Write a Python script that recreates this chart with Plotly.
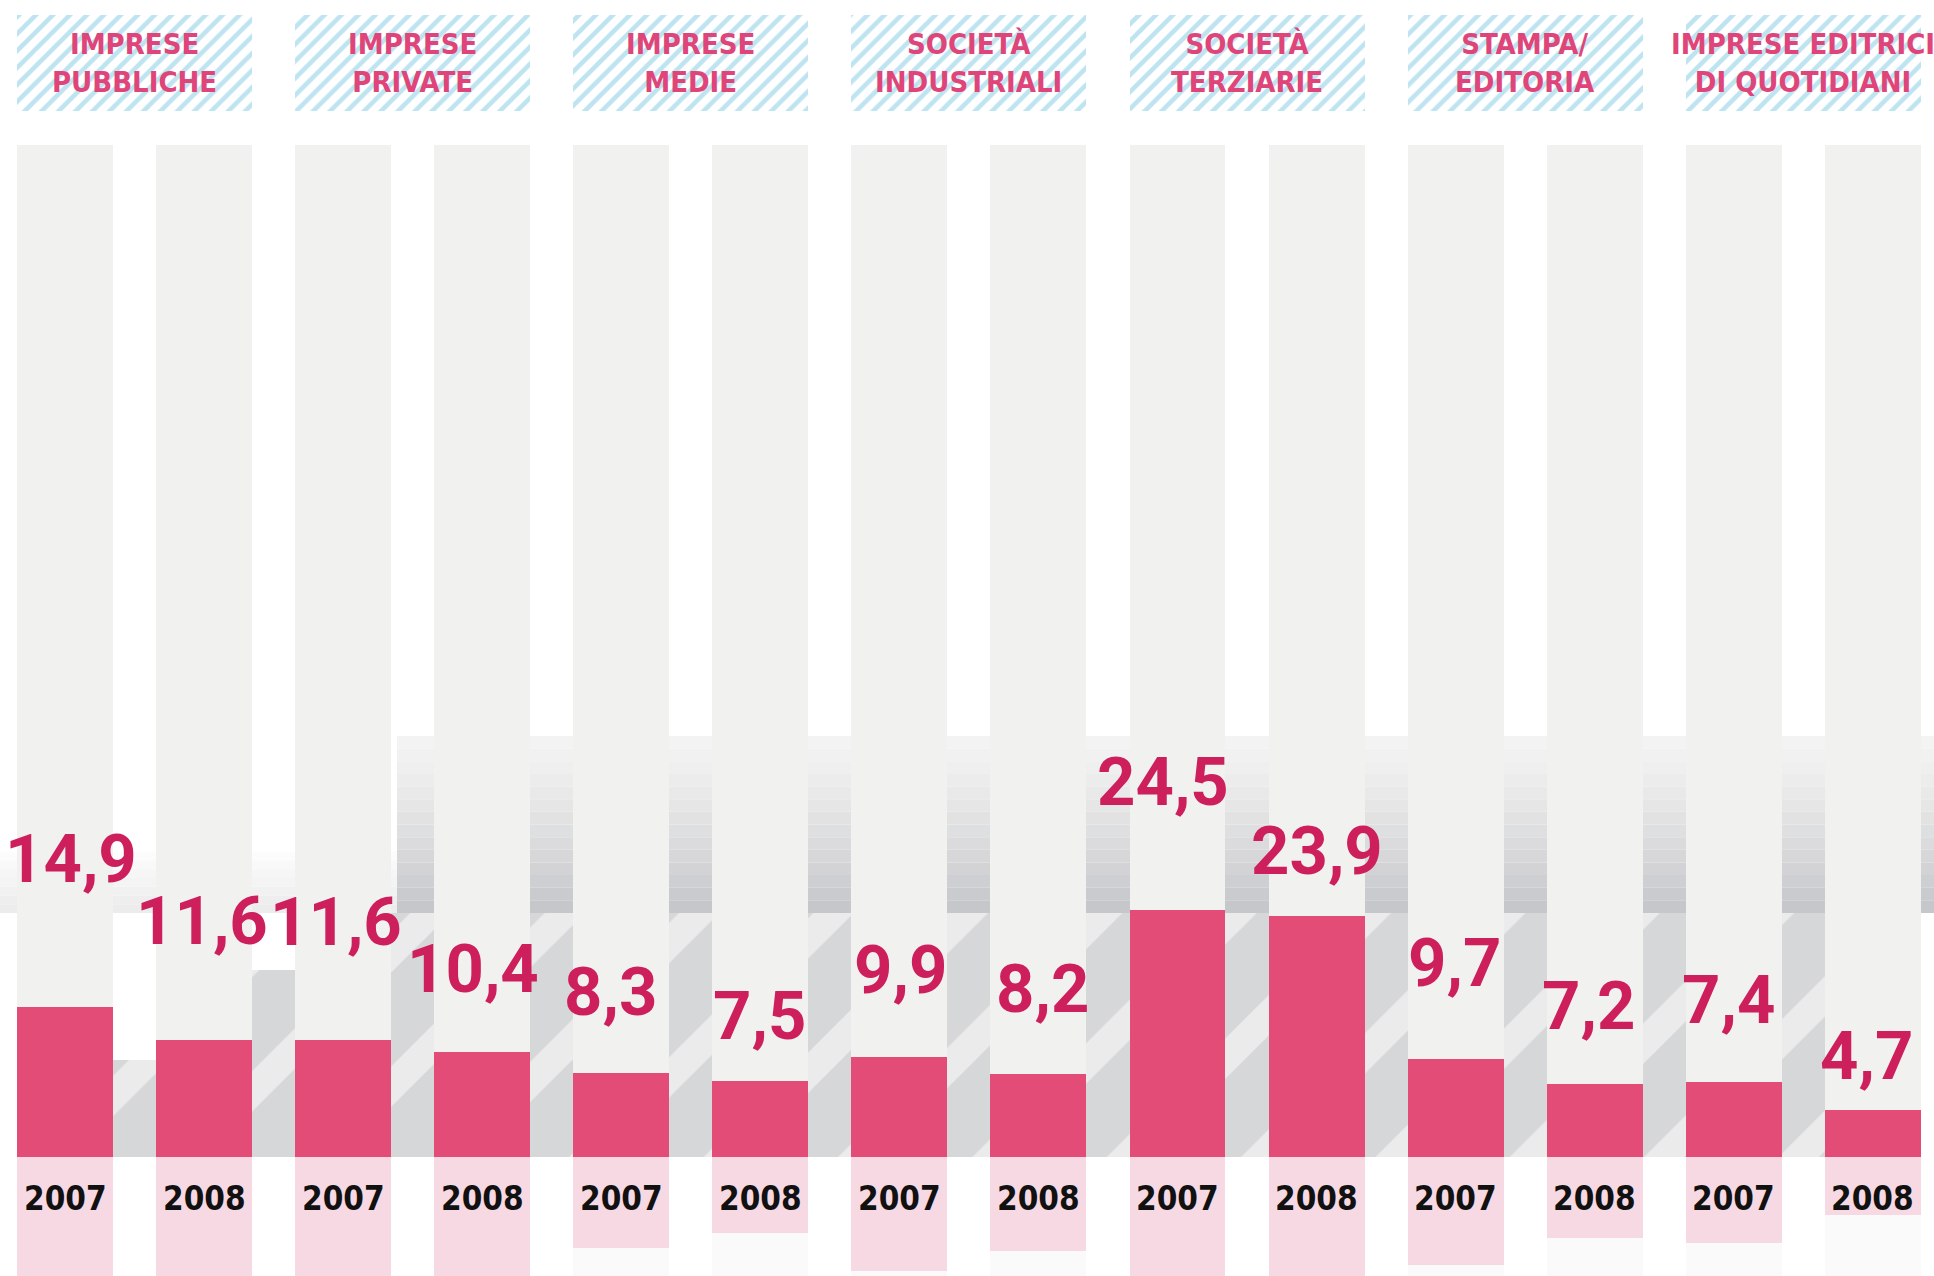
import plotly.graph_objects as go

# ---------------- data ----------------
categories = ["IMPRESE<br>PUBBLICHE", "IMPRESE<br>PRIVATE", "IMPRESE<br>MEDIE",
              "SOCIETÀ<br>INDUSTRIALI", "SOCIETÀ<br>TERZIARIE", "STAMPA/<br>EDITORIA",
              "IMPRESE EDITRICI<br>DI QUOTIDIANI"]
years = ["2007", "2008"]
values = [14.9, 11.6, 11.6, 10.4, 8.3, 7.5, 9.9, 8.2, 24.5, 23.9, 9.7, 7.2, 7.4, 4.7]
value_labels = ["14,9", "11,6", "11,6", "10,4", "8,3", "7,5", "9,9", "8,2",
                "24,5", "23,9", "9,7", "7,2", "7,4", "4,7"]

# ---------------- style ----------------
FONT = "DejaVu Sans Condensed, DejaVu Sans, sans-serif"
NUM_FONT = "Roboto, DejaVu Sans Condensed, sans-serif"
BAR_W = 0.69
Y_MIN, Y_MAX = -11.78, 114.55
COL_TOP = 100.2
HEAD_BASE, HEAD_H = 103.6, 9.5
BAND_BOTTOM = 24.2
# label placement above each bar (pixels), as in the original layout
label_dy = [148, 119, 118, 83, 81, 65, 87, 85, 128, 65, 96, 78, 82, 54]
label_dx = [6, -2, -7, -9, -11, -1, 1, 4, -15, 0, -1, -6, -5, -6]
# depth of the pale pink foot under each column (decorative reflection)
foot_depth = [Y_MIN, Y_MIN, Y_MIN, Y_MIN, -9.0, -7.5, -11.3, -9.3, Y_MIN, Y_MIN,
              -10.7, -8.0, -8.5, -5.7]

n = len(values)
xs = list(range(n))
year_of = [years[i % 2] for i in xs]
pair_x = [2 * k + 0.5 for k in range(len(categories))]
gap_x = [i + 0.5 for i in range(n - 1)]
gap_h = [9.6, 18.5] + [BAND_BOTTOM] * (n - 3)

fig = go.Figure()

# diagonal grey shading between columns
fig.add_trace(go.Bar(x=gap_x, y=gap_h, width=1 - BAR_W,
                     marker=dict(color="#d8d9db", line_width=0,
                                 pattern=dict(shape="/", fgcolor="#ffffff", bgcolor="#d6d7d9",
                                              size=95, solidity=0.3)),
                     hoverinfo="skip", showlegend=False))
# light grey columns
fig.add_trace(go.Bar(x=xs, y=[COL_TOP] * n, width=BAR_W, marker=dict(color="#f1f1ef", line_width=0),
                     hoverinfo="skip", showlegend=False))
# faint base under columns
fig.add_trace(go.Bar(x=xs, y=[Y_MIN] * n, width=BAR_W, marker=dict(color="#fafafa", line_width=0),
                     hoverinfo="skip", showlegend=False))
# pale pink foot of columns
fig.add_trace(go.Bar(x=xs, y=foot_depth, width=BAR_W, marker=dict(color="#f7d9e4", line_width=0),
                     hoverinfo="skip", showlegend=False))
# value bars
fig.add_trace(go.Bar(x=xs, y=values, width=BAR_W, marker=dict(color="#e34c77", line_width=0),
                     customdata=year_of, hovertemplate="%{customdata}: %{y}<extra></extra>",
                     showlegend=False))
# hatched header boxes
fig.add_trace(go.Bar(x=pair_x, y=[HEAD_H] * len(pair_x), base=HEAD_BASE, width=1 + BAR_W,
                     marker=dict(color="#ffffff", line_width=0,
                                 pattern=dict(shape="/", fgcolor="#7ccae1", bgcolor="#ffffff",
                                              size=12, solidity=0.38)),
                     hoverinfo="skip", showlegend=False))

annotations = []
for i in xs:
    annotations.append(dict(x=i, y=values[i], xref="x", yref="y", text=value_labels[i],
                            showarrow=False, yanchor="middle", yshift=label_dy[i], xshift=label_dx[i],
                            font=dict(family=NUM_FONT, size=67, color="#cc1f5c", weight="bold")))
    annotations.append(dict(x=i, y=0, xref="x", yref="y", text=year_of[i],
                            showarrow=False, yanchor="middle", yshift=-41,
                            font=dict(family=FONT, size=33, color="#111111", weight="bold")))
for k, c in enumerate(categories):
    annotations.append(dict(x=pair_x[k], y=HEAD_BASE + HEAD_H / 2, xref="x", yref="y", text=c,
                            showarrow=False, yanchor="middle",
                            font=dict(family=FONT, size=29, color="#e0457a", weight="bold")))

# grey gradient band behind the columns
shapes = []
H = 1276.0
def py(p):
    return 1 - p / H
steps = 14
top, bot = 736, 913
c0, c1 = (243, 243, 243), (198, 199, 202)
for s in range(steps):
    t = s / (steps - 1)
    col = tuple(int(c0[j] + (c1[j] - c0[j]) * t ** 1.3) for j in range(3))
    y0 = top + (bot - top) * s / steps
    y1 = top + (bot - top) * (s + 1) / steps
    shapes.append(dict(type="rect", xref="paper", yref="paper", x0=397 / 1934, x1=1,
                       y0=py(y1), y1=py(y0), fillcolor="rgb(%d,%d,%d)" % col, line_width=0,
                       layer="below"))
top2 = 843
c2, c3 = (255, 255, 255), (236, 236, 236)
for s in range(8):
    t = s / 7
    col = tuple(int(c2[j] + (c3[j] - c2[j]) * t) for j in range(3))
    y0 = top2 + (bot - top2) * s / 8
    y1 = top2 + (bot - top2) * (s + 1) / 8
    shapes.append(dict(type="rect", xref="paper", yref="paper", x0=0, x1=397 / 1934,
                       y0=py(y1), y1=py(y0), fillcolor="rgb(%d,%d,%d)" % col, line_width=0,
                       layer="below"))

fig.update_layout(
    width=1934, height=1276,
    margin=dict(l=0, r=0, t=0, b=0),
    paper_bgcolor="#ffffff", plot_bgcolor="#ffffff",
    barmode="overlay", bargap=0,
    xaxis=dict(range=[-0.4675, 13.44], visible=False, fixedrange=True),
    yaxis=dict(range=[Y_MIN, Y_MAX], visible=False, fixedrange=True),
    annotations=annotations, shapes=shapes,
    showlegend=False,
)

fig.write_html("out.html", config={"displayModeBar": False},
               post_script="document.body.style.margin='0';document.body.style.overflow='hidden';")
